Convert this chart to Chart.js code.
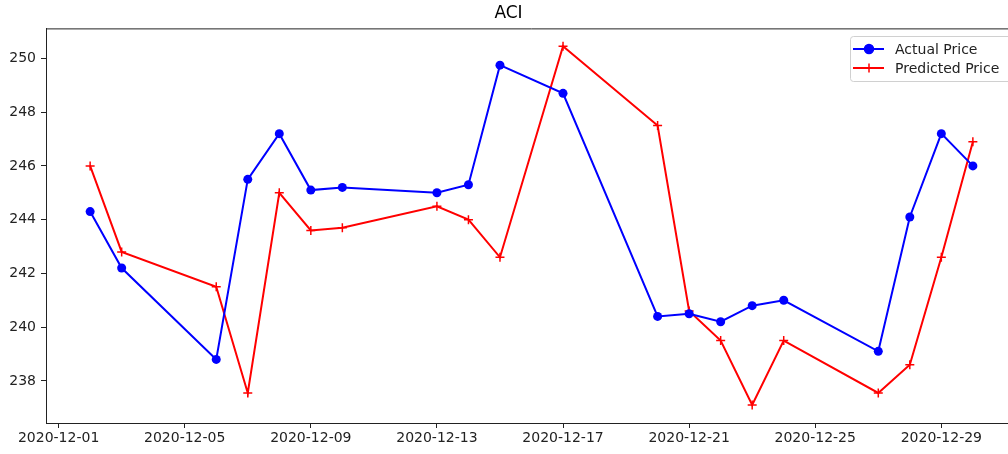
<!DOCTYPE html>
<html>
<head>
<meta charset="utf-8">
<title>ACI</title>
<script src="https://cdn.jsdelivr.net/npm/chart.js@4/dist/chart.umd.min.js"></script>
<style>
    html, body { margin: 0; padding: 0; background: #fff; overflow: hidden; }
    #wrap { width: 1030px; height: 454px; position: relative; }
</style>
</head>
<body>
<div id="wrap"><canvas id="chart"></canvas></div>
<script>
// chart data
const dates = [
    '2020-12-02', '2020-12-03', '2020-12-06', '2020-12-07', '2020-12-08',
    '2020-12-09', '2020-12-10', '2020-12-13', '2020-12-14', '2020-12-15',
    '2020-12-17', '2020-12-20', '2020-12-21', '2020-12-22', '2020-12-23',
    '2020-12-24', '2020-12-27', '2020-12-28', '2020-12-29', '2020-12-30'
];
const actualPrice = [
    244.3, 242.2, 238.8, 245.5, 247.2, 245.1, 245.2, 245.0, 245.3, 249.75,
    248.7, 240.4, 240.5, 240.2, 240.8, 241.0, 239.1, 244.1, 247.2, 246.0
];
const predictedPrice = [
    246.0, 242.8, 241.5, 237.55, 245.0, 243.6, 243.7, 244.5, 244.0, 242.6,
    250.45, 247.5, 240.6, 239.5, 237.1, 239.5, 237.55, 238.6, 242.6, 246.9
];
const xTickDates = [
    '2020-12-01', '2020-12-05', '2020-12-09', '2020-12-13',
    '2020-12-17', '2020-12-21', '2020-12-25', '2020-12-29'
];
const yTicks = [238, 240, 242, 244, 246, 248, 250];

const toMs = s => Date.parse(s + 'T00:00:00Z');
const pad2 = n => String(n).padStart(2, '0');
const fmtDate = ms => {
    const d = new Date(ms);
    return `${d.getUTCFullYear()}-${pad2(d.getUTCMonth() + 1)}-${pad2(d.getUTCDate())}`;
};

const xs = dates.map(toMs);
const xSpan = xs[xs.length - 1] - xs[0];
const allY = actualPrice.concat(predictedPrice);
const yLo = Math.min(...allY), yHi = Math.max(...allY);
const ySpan = yHi - yLo;

const FONT = 'DejaVu Sans, Verdana, sans-serif';
Chart.defaults.font.family = FONT;
Chart.defaults.color = '#222';

// top/right spines
const framePlugin = {
    id: 'frame',
    afterDraw(chart) {
        const { ctx, chartArea: a } = chart;
        ctx.save();
        ctx.strokeStyle = '#222';
        ctx.lineWidth = 1;
        ctx.beginPath();
        ctx.moveTo(a.left, a.top + 0.5);
        ctx.lineTo(a.right, a.top + 0.5);
        ctx.lineTo(a.right, a.bottom);
        ctx.stroke();
        ctx.restore();
    }
};

// matplotlib-style legend in the upper right
const legendPlugin = {
    id: 'mplLegend',
    afterDatasetsDraw(chart) {
        const { ctx } = chart;
        const bx = 850, by = 36, bw = 162, bh = 45;
        ctx.save();
        ctx.fillStyle = 'rgba(255,255,255,0.85)';
        ctx.strokeStyle = '#d0d0d0';
        ctx.lineWidth = 1;
        ctx.beginPath();
        ctx.roundRect(bx + 0.5, by + 0.5, bw, bh, 3);
        ctx.fill();
        ctx.stroke();
        ctx.font = `14px ${FONT}`;
        ctx.textBaseline = 'middle';
        chart.data.datasets.forEach((ds, i) => {
            const y = by + 13 + i * 19;
            ctx.strokeStyle = ds.borderColor;
            ctx.lineWidth = 2;
            ctx.beginPath();
            ctx.moveTo(bx + 3, y);
            ctx.lineTo(bx + 34, y);
            ctx.stroke();
            ctx.fillStyle = ds.borderColor;
            ctx.lineWidth = 1.5;
            Chart.helpers.drawPoint(ctx, {
                pointStyle: ds.pointStyle,
                radius: ds.pointRadius,
                rotation: 0,
                borderWidth: 1.5
            }, bx + 19, y);
            ctx.fillStyle = '#222';
            ctx.fillText(ds.label, bx + 45, y + 1);
        });
        ctx.restore();
    }
};

const ctx = document.getElementById('chart').getContext('2d');
new Chart(ctx, {
    type: 'line',
    data: {
        datasets: [
            {
                label: 'Actual Price',
                data: xs.map((x, i) => ({ x, y: actualPrice[i] })),
                borderColor: '#0000ff',
                backgroundColor: '#0000ff',
                borderWidth: 2,
                pointStyle: 'circle',
                pointRadius: 4.5,
                pointBorderWidth: 0,
                pointBackgroundColor: '#0000ff',
                tension: 0
            },
            {
                label: 'Predicted Price',
                data: xs.map((x, i) => ({ x, y: predictedPrice[i] })),
                borderColor: '#ff0000',
                backgroundColor: '#ff0000',
                borderWidth: 2,
                pointStyle: 'cross',
                pointRadius: 4.5,
                pointBorderWidth: 1.5,
                pointBorderColor: '#ff0000',
                tension: 0
            }
        ]
    },
    options: {
        responsive: true,
        maintainAspectRatio: false,
        animation: false,
        layout: { padding: { left: 0, right: 13, top: 0, bottom: 0 } },
        scales: {
            x: {
                type: 'linear',
                min: xs[0] - 0.05 * xSpan,
                max: xs[xs.length - 1] + 0.05 * xSpan,
                afterBuildTicks: axis => {
                    axis.ticks = xTickDates.map(d => ({ value: toMs(d) }));
                },
                afterFit: axis => { axis.height = 31; },
                ticks: {
                    font: { size: 14 },
                    color: '#222',
                    padding: 2,
                    maxRotation: 0,
                    autoSkip: false,
                    callback: v => fmtDate(v)
                },
                grid: { drawOnChartArea: false, drawTicks: true, tickLength: 5, color: '#222' },
                border: { display: true, color: '#222', width: 1 }
            },
            y: {
                min: yLo - 0.05 * ySpan,
                max: yHi + 0.05 * ySpan,
                afterBuildTicks: axis => {
                    axis.ticks = yTicks.map(v => ({ value: v }));
                },
                afterFit: axis => { axis.width = 46; },
                ticks: {
                    font: { size: 14 },
                    color: '#222',
                    padding: 5,
                    callback: v => String(v)
                },
                grid: { drawOnChartArea: false, drawTicks: true, tickLength: 5, color: '#222' },
                border: { display: true, color: '#222', width: 1 }
            }
        },
        plugins: {
            legend: { display: false },
            tooltip: { enabled: false },
            title: {
                display: true,
                text: 'ACI',
                font: { size: 17, weight: 'normal' },
                color: '#000',
                padding: { top: 3, bottom: 5 }
            }
        }
    },
    plugins: [framePlugin, legendPlugin]
});
</script>
</body>
</html>
